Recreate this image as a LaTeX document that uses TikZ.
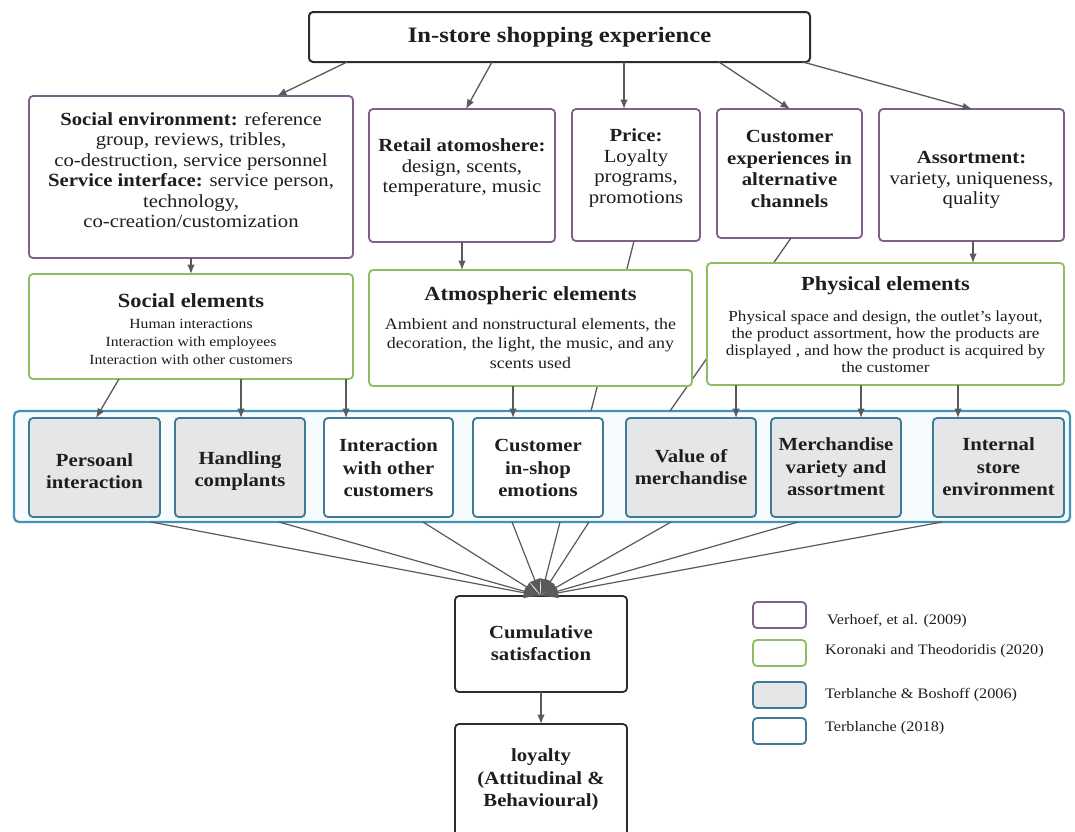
\documentclass[tikz,border=0pt]{standalone}
\usepackage{fontspec}
\setmainfont{Liberation Serif}[FakeStretch=1.12]
\usetikzlibrary{arrows.meta,calc}
\definecolor{cPurple}{RGB}{126,96,138}
\definecolor{cGreen}{RGB}{141,190,98}
\definecolor{cBlue}{RGB}{62,122,150}
\definecolor{cCont}{RGB}{66,145,185}
\definecolor{cGray}{RGB}{229,230,232}
\definecolor{cContFill}{RGB}{246,251,253}
\definecolor{cArrow}{RGB}{90,90,90}
\definecolor{cDark}{RGB}{45,45,45}
\definecolor{cText}{RGB}{30,30,30}
\newcommand{\myfs}[2]{\fontsize{#1}{#2}\selectfont}
\tikzset{
  every node/.style={inner sep=0pt, outer sep=0pt},
  box/.style={draw, rounded corners=4pt, line width=1.8pt, fill=white},
  pbox/.style={box, draw=cPurple},
  gbox/.style={box, draw=cGreen},
  bbox/.style={box, draw=cBlue, fill=cGray},
  wbox/.style={box, draw=cBlue, fill=white},
  kbox/.style={box, draw=cDark, line width=2pt},
  contbox/.style={draw=cCont, line width=2.2pt, rounded corners=5pt, fill=cContFill},
  txt/.style={align=center, text=cText},
  rowone/.style={txt, font=\myfs{18.5}{20.5}},
  gtitle/.style={txt, font=\bfseries\myfs{20}{22}},
  inner/.style={txt, font=\bfseries\myfs{18.5}{22.5}},
  legtxt/.style={text=cText, anchor=west, font=\myfs{14.5}{16}},
  conn/.style={draw=cArrow, line width=1.3pt, -{Latex[length=9.5pt,width=7.5pt]}},
  plainline/.style={draw=cArrow, line width=1.3pt},
  conv/.style={draw=cArrow, line width=1.2pt, -{Latex[length=17pt,width=11pt]}},
}
\begin{document}
\begin{tikzpicture}[x=1pt,y=-1pt]
\useasboundingbox (0,0) rectangle (1075,831);
\clip (0,0) rectangle (1075,831);
\fill[white] (0,0) rectangle (1075,831);

% top
\node[kbox, minimum width=501, minimum height=50, font=\bfseries\myfs{22}{24}, text=cText] (top) at (559.5,37) {In-store shopping experience};

% row 1
\node[pbox, minimum width=324, minimum height=162] (se) at (191,177) {};
\node[rowone] (set) at (191,170) {\textbf{Social environment:} reference\\group, reviews, tribles,\\co-destruction, service personnel\\\textbf{Service interface:} service person,\\technology,\\co-creation/customization};
\node[pbox, minimum width=186, minimum height=133] (ra) at (462,175.5) {};
\node[rowone] (rat) at (462,168) {\textbf{Retail atomoshere:}\\design, scents,\\temperature, music};
\node[pbox, minimum width=128, minimum height=132] (pr) at (636,175) {};
\node[rowone] (prt) at (636,168) {\textbf{Price:}\\Loyalty\\programs,\\promotions};
\node[pbox, minimum width=145, minimum height=129] (ce) at (789.5,173.5) {};
\node[rowone, font=\bfseries\myfs{18.5}{21.5}] (cet) at (789.5,169) {Customer\\experiences in\\alternative\\channels};
\node[pbox, minimum width=185, minimum height=132] (as) at (971.5,175) {};
\node[rowone] (ast) at (971.5,180) {\textbf{Assortment:}\\variety, uniqueness,\\quality};

% container and inner boxes
\node[contbox, minimum width=1056, minimum height=111] (cont) at (542,466.5) {};
\node[bbox, minimum width=131, minimum height=99] (p1) at (94.5,467.5) {};
\node[inner] at (94.5,471) {Persoanl\\interaction};
\node[bbox, minimum width=130, minimum height=99] (p2) at (240,467.5) {};
\node[inner] at (240,471) {Handling\\complants};
\node[wbox, minimum width=129, minimum height=99] (p3) at (388.5,467.5) {};
\node[inner] at (388.5,468) {Interaction\\with other\\customers};
\node[wbox, minimum width=130, minimum height=99] (p4) at (538,467.5) {};
\node[inner] at (538,468) {Customer\\in-shop\\emotions};
\node[bbox, minimum width=130, minimum height=99] (p5) at (691,467.5) {};
\node[inner] at (691,467) {Value of\\merchandise};
\node[bbox, minimum width=130, minimum height=99] (p6) at (836,467.5) {};
\node[inner] at (836,467) {Merchandise\\variety and\\assortment};
\node[bbox, minimum width=131, minimum height=99] (p7) at (998.5,467.5) {};
\node[inner] at (998.5,467) {Internal\\store\\environment};

% lines passing behind row-2 boxes
\draw[plainline] ($(pr.south west)+(62,0)$) -- ($(cont.north west)+(577,0)$);
\draw[plainline] ($(ce.south west)+(74,0)$) -- ($(cont.north west)+(656,0)$);

% row 2
\node[gbox, minimum width=324, minimum height=105] (sel) at (191,326.5) {};
\node[gtitle] at (191,301) {Social elements};
\node[txt, font=\myfs{14}{18}] at (191,342) {Human interactions\\Interaction with employees\\Interaction with other customers};
\node[gbox, minimum width=323, minimum height=116] (at) at (530.5,328) {};
\node[gtitle] at (530.5,296) {Atmospheric elements};
\node[txt, font=\myfs{16}{19.5}] at (530.5,343.5) {Ambient and nonstructural elements, the\\decoration, the light, the music, and any\\scents used};
\node[gbox, minimum width=357, minimum height=122] (ph) at (885.5,324) {};
\node[gtitle] at (885.5,286) {Physical elements};
\node[txt, font=\myfs{15.3}{17}] at (885.5,342) {Physical space and design, the outlet's layout,\\the product assortment, how the products are\\displayed , and how the product is acquired by\\the customer};

% bottom
\node[kbox, line width=1.8pt, minimum width=172, minimum height=96] (cum) at (541,644) {};
\node[inner] at (541,643) {Cumulative\\satisfaction};
\node[kbox, line width=1.8pt, minimum width=172, minimum height=150] (loy) at (541,799) {};
\node[inner] at (541,780) {loyalty\\(Attitudinal \&\\Behavioural)};

% legend
\node[box, draw=cPurple, minimum width=53, minimum height=26] (lg1) at (779.5,615) {};
\node[box, draw=cGreen, minimum width=53, minimum height=26] (lg2) at (779.5,653) {};
\node[box, draw=cBlue, fill=cGray, minimum width=53, minimum height=26] (lg3) at (779.5,695) {};
\node[box, draw=cBlue, minimum width=53, minimum height=26] (lg4) at (779.5,731) {};
\node[legtxt] (lt1) at (827,621) {Verhoef, et al. (2009)};
\node[legtxt] (lt2) at (825,651) {Koronaki and Theodoridis (2020)};
\node[legtxt] (lt3) at (825,695) {Terblanche \& Boshoff (2006)};
\node[legtxt] (lt4) at (825,728) {Terblanche (2018)};

% arrows from top
\draw[conn] ($(top.south west)+(38,0)$) -- ($(se.north west)+(248,0)$);
\draw[conn] ($(top.south west)+(183,0)$) -- ($(ra.north west)+(97,0)$);
\draw[conn] ($(top.south west)+(315,0)$) -- ($(pr.north west)+(52,0)$);
\draw[conn] ($(top.south west)+(410,0)$) -- ($(ce.north west)+(73,0)$);
\draw[conn] ($(top.south west)+(494,0)$) -- ($(as.north west)+(93,0)$);

% row1 -> row2
\draw[conn] (se.south) -- (sel.north);
\draw[conn] (ra.south) -- ($(at.north west)+(93,0)$);
\draw[conn] ($(as.south west)+(94,0)$) -- ($(ph.north west)+(266,0)$);

% row2 -> inner boxes
\draw[conn] ($(sel.south west)+(90,0)$) -- ($(p1.north west)+(67,0)$);
\draw[conn] ($(sel.south west)+(212,0)$) -- ($(p2.north west)+(66,0)$);
\draw[conn] ($(sel.south west)+(317,0)$) -- ($(p3.north west)+(22,0)$);
\draw[conn] ($(at.south west)+(144,0)$) -- ($(p4.north west)+(40,0)$);
\draw[conn] ($(ph.south west)+(29,0)$) -- ($(p5.north west)+(110,0)$);
\draw[conn] ($(ph.south west)+(154,0)$) -- ($(p6.north west)+(90,0)$);
\draw[conn] ($(ph.south west)+(251,0)$) -- ($(p7.north west)+(25,0)$);

% convergence to cumulative satisfaction
\foreach \dx in {137,265,409,498,546,575,657,784,928}{
  \draw[conv] ($(cont.south west)+(\dx,0)$) -- (cum.north);
}
\draw[conn] (cum.south) -- (loy.north);
\end{tikzpicture}
\end{document}
